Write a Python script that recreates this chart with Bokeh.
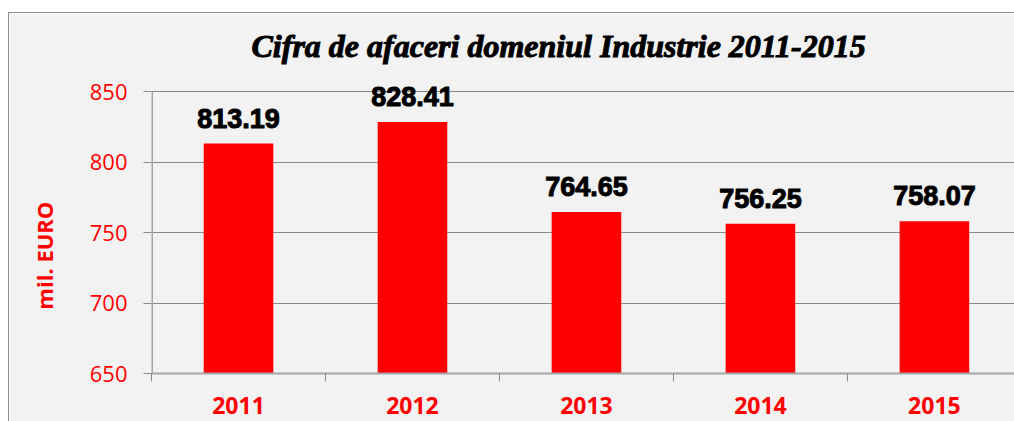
from bokeh.plotting import figure
from bokeh.models import Range1d, FixedTicker, ColumnDataSource, Spacer, Title
from bokeh.layouts import column, row
from bokeh.core.properties import value
from bokeh.embed import file_html
from bokeh.resources import INLINE

years = ["2011", "2012", "2013", "2014", "2015"]
values = [813.19, 828.41, 764.65, 756.25, 758.07]
labels = ["813.19", "828.41", "764.65", "756.25", "758.07"]
y_ticks = [650, 700, 750, 800, 850]
title_text = "Cifra de afaceri domeniul Industrie 2011-2015"
y_label = "mil. EURO"

xs = list(range(len(years)))
src = ColumnDataSource(dict(x=xs, top=values, lab=labels))

x0 = -0.5
p = figure(width=1006, height=409, output_backend="svg", toolbar_location=None,
           x_range=Range1d(x0, 4.466), y_range=Range1d(650, 870),
           min_border_left=142, min_border_right=0, min_border_top=50, min_border_bottom=49)
p.background_fill_color = "#f2f2f2"
p.border_fill_color = "#f2f2f2"
p.outline_line_color = None
p.styles = {"border-left": "1px solid #8c8c8c", "border-top": "1px solid #8c8c8c"}

p.title = Title(text=title_text, align="left", offset=100, standoff=0,
                text_font="Liberation Serif", text_font_style="bold italic",
                text_font_size="32px", text_color="black",
                text_outline_color="black")

p.vbar(x="x", top="top", bottom=650, width=0.40, source=src,
       fill_color="#ff0000", line_color=None)

# y axis line only over the tick span
p.segment(x0=[x0], y0=[min(y_ticks)], x1=[x0], y1=[max(y_ticks)],
          line_color="#a6a6a6", line_width=3)

p.text(x="x", y="top", text="lab", source=src, text_align="center",
       text_baseline="bottom", y_offset=-16,
       text_font=value("Liberation Sans"), text_font_style="bold",
       text_font_size="27px", text_color="black",
       text_outline_color="black")

# grid
p.xgrid.grid_line_color = None
p.ygrid.ticker = FixedTicker(ticks=[700, 750, 800, 850])
p.ygrid.grid_line_color = "#8a8a8a"
p.ygrid.grid_line_width = 1

# y axis
p.yaxis.ticker = FixedTicker(ticks=y_ticks)
p.yaxis.axis_line_color = None
p.yaxis.major_tick_line_color = "#8a8a8a"
p.yaxis.major_tick_out = 8
p.yaxis.major_tick_in = 0
p.yaxis.minor_tick_line_color = None
p.yaxis.major_label_text_color = "#ff0000"
p.yaxis.major_label_text_font = "Open Sans"
p.yaxis.major_label_text_font_size = "22px"
p.yaxis.major_label_standoff = 16
p.yaxis.axis_label = y_label + "\u00a0" * 13
p.yaxis.axis_label_text_color = "#ff0000"
p.yaxis.axis_label_text_font = "Open Sans"
p.yaxis.axis_label_text_font_style = "bold"
p.yaxis.axis_label_text_font_size = "22px"
p.yaxis.axis_label_standoff = 28

# x axis
p.xaxis.ticker = FixedTicker(ticks=xs, minor_ticks=[-0.5, 0.5, 1.5, 2.5, 3.5, 4.5])
p.xaxis.major_label_overrides = {i: y for i, y in zip(xs, years)}
p.xaxis.axis_line_color = "#a6a6a6"
p.xaxis.axis_line_width = 2
p.xaxis.major_tick_line_color = None
p.xaxis.major_tick_out = 0
p.xaxis.minor_tick_line_color = "#8a8a8a"
p.xaxis.minor_tick_out = 8
p.xaxis.minor_tick_in = 0
p.xaxis.major_label_text_color = "#ff0000"
p.xaxis.major_label_text_font = "Open Sans"
p.xaxis.major_label_text_font_style = "bold"
p.xaxis.major_label_text_font_size = "23px"
p.xaxis.major_label_standoff = 15

layout = row(Spacer(width=8, height=421),
             column(Spacer(width=1006, height=12), p, spacing=0),
             spacing=0)
open("out.html", "w").write(file_html(layout, INLINE))
